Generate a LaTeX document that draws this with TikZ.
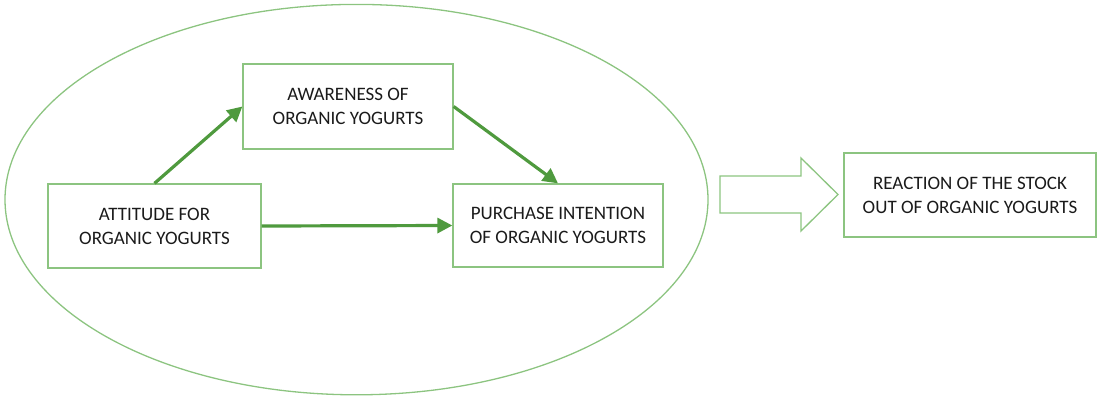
\documentclass[tikz,border=0pt]{standalone}
\usepackage{fontspec}
\setmainfont{Carlito}
\usepackage{xcolor}
\usepackage{tikz}
\usetikzlibrary{calc,arrows.meta}
\definecolor{boxline}{HTML}{8CC480}
\definecolor{arrowgreen}{HTML}{4F9A3E}
\definecolor{ink}{HTML}{1A1A1A}
\tikzset{
  frame/.style={draw=boxline, line width=1.3pt},
  factor/.style={draw=boxline, line width=1.3pt, align=center, inner sep=0pt, text=ink, font=\fontsize{19}{24}\selectfont},
  link/.style={draw=arrowgreen, line width=3.2pt, -{Triangle[length=15pt,width=15pt]}},
  bigarrow/.style={draw=boxline, line width=1.3pt, line join=miter}
}

\begin{document}
\begin{tikzpicture}[x=1pt,y=-1pt]
  \useasboundingbox (0,0) rectangle (1103,399);

  \draw[frame] (356.5,199.6) ellipse [x radius=351.5, y radius=195.2];

  \node[factor, minimum width=213pt, minimum height=84pt] (attitude) at (154.5,226) {ATTITUDE FOR\\ORGANIC YOGURTS};
  \node[factor, minimum width=210pt, minimum height=85pt] (aware) at (348,106.5) {AWARENESS OF\\ORGANIC YOGURTS};
  \node[factor, minimum width=210pt, minimum height=83pt] (purchase) at (558,225.5) {PURCHASE INTENTION\\OF ORGANIC YOGURTS};
  \node[factor, minimum width=252pt, minimum height=84pt] (reaction) at (970,195) {REACTION OF THE STOCK\\OUT OF ORGANIC YOGURTS};

  \draw[link] (attitude.north) -- (aware.west);
  \draw[link] (aware.east) -- (purchase.north);
  \draw[link] (attitude.east) -- (purchase.west);

  % hollow arrow towards the outcome
  \coordinate (tail) at (720,194.5);
  \draw[bigarrow] (tail) ++(0,-18.5) -- ++(81,0) -- ++(0,-18) -- (838,194.5)
    -- (801,231) -- ++(0,-18) -- ++(-81,0) -- cycle;
\end{tikzpicture}
\end{document}
